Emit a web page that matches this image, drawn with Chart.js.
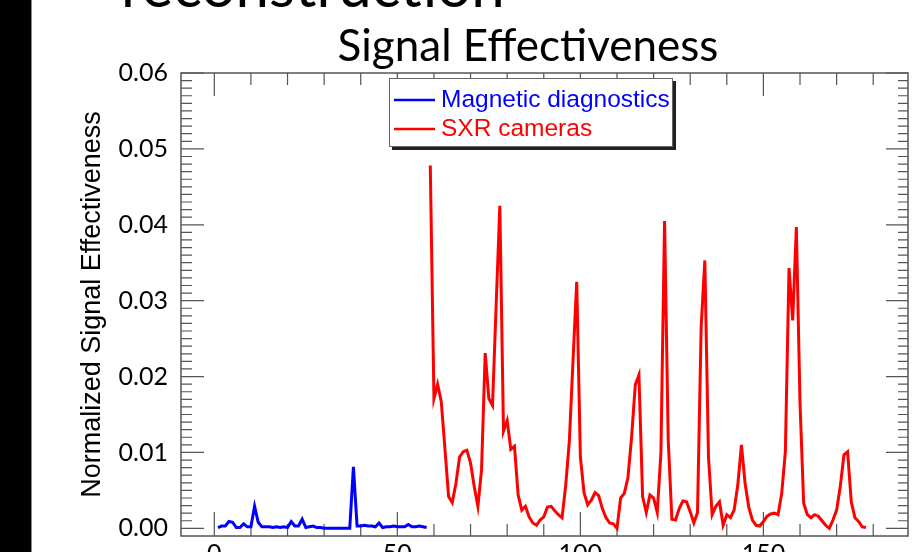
<!DOCTYPE html>
<html>
<head>
  <meta charset="UTF-8">
  <title>Signal Effectiveness</title>
  <script src="https://cdn.jsdelivr.net/npm/chart.js"></script>
  <style>
    body { margin: 0; background: #fff; overflow: hidden; }
    .slide { position: relative; width: 914px; height: 552px; overflow: hidden; background: #fff; }
    .slide canvas { position: absolute; left: 0; top: 0; }
    /* dark strip on the slide's left edge */
    .side-bar { position: absolute; left: 0; top: 0; width: 31px; height: 552px; background: #000; border-right: 1px solid #8a8a8a; }
    .slide-heading { position: absolute; left: 121px; top: -46px; margin: 0; font: normal 60px/60px Lato, sans-serif; color: #000; white-space: nowrap; }
    .chart-title { position: absolute; left: 528px; top: 22px; transform: translateX(-50%); margin: 0; font: normal 44px/44px Lato, sans-serif; color: #000; white-space: nowrap; }
  </style>
</head>
<body>
<div class="slide">
  <canvas id="chart-signal" width="914" height="600"></canvas>
  <div class="side-bar"></div>
  <h1 class="slide-heading">reconstruction</h1>
  <h2 class="chart-title">Signal Effectiveness</h2>
</div>

<script>
  // channel numbers: magnetic probes come first, SXR chords follow
  const magneticFirstChannel = 1;
  const sxrFirstChannel = 59;

  const magneticValues = [
    0.0001, 0.0003, 0.0003, 0.0009, 0.0008, 0.0001, 0.0001, 0.0006, 0.0002, 0.0002,
    0.0029, 0.0008, 0.0002, 0.0002, 0.0002, 0.0001, 0.0002, 0.0001, 0.0002, 0.0001,
    0.0009, 0.0003, 0.0003, 0.0012, 0.0001, 0.0002, 0.0003, 0.0001, 0.0001, 0.0000,
    0.0000, 0.0000, 0.0000, 0.0000, 0.0000, 0.0000, 0.0000, 0.0081, 0.0003, 0.0003,
    0.0004, 0.0003, 0.0003, 0.0002, 0.0007, 0.0001, 0.0002, 0.0002, 0.0003, 0.0002,
    0.0002, 0.0002, 0.0005, 0.0002, 0.0002, 0.0003, 0.0002, 0.0001
  ];

  const sxrValues = [
    0.0478, 0.0171, 0.0190, 0.0167, 0.0105, 0.0042, 0.0034, 0.0059, 0.0094, 0.0101,
    0.0103, 0.0086, 0.0055, 0.0029, 0.0077, 0.0231, 0.0171, 0.0162, 0.0295, 0.0425,
    0.0128, 0.0142, 0.0104, 0.0108, 0.0044, 0.0024, 0.0029, 0.0015, 0.0007, 0.0004,
    0.0011, 0.0015, 0.0028, 0.0029, 0.0023, 0.0018, 0.0014, 0.0057, 0.0116, 0.0222,
    0.0325, 0.0094, 0.0047, 0.0031, 0.0037, 0.0047, 0.0043, 0.0026, 0.0014, 0.0007,
    0.0006, 0.0000, 0.0040, 0.0046, 0.0067, 0.0121, 0.0189, 0.0202, 0.0042, 0.0021,
    0.0044, 0.0040, 0.0021, 0.0099, 0.0405, 0.0116, 0.0012, 0.0011, 0.0026, 0.0036,
    0.0035, 0.0022, 0.0007, 0.0021, 0.0266, 0.0353, 0.0094, 0.0018, 0.0029, 0.0035,
    0.0004, 0.0018, 0.0014, 0.0024, 0.0057, 0.0110, 0.0059, 0.0028, 0.0011, 0.0004,
    0.0003, 0.0009, 0.0016, 0.0019, 0.0020, 0.0018, 0.0046, 0.0101, 0.0343, 0.0274,
    0.0397, 0.0165, 0.0033, 0.0018, 0.0014, 0.0018, 0.0016, 0.0010, 0.0004, 0.0000,
    0.0011, 0.0024, 0.0055, 0.0097, 0.0101, 0.0035, 0.0014, 0.0009, 0.0002, 0.0001
  ];

  const seriesLabels = ['Magnetic diagnostics', 'SXR cameras'];

  // axes
  const xMin = -9.1, xMax = 189.5;
  const yMin = -0.00101, yMax = 0.06;
  const xTicks = [0, 50, 100, 150];
  const yTicks = [0.00, 0.01, 0.02, 0.03, 0.04, 0.05, 0.06];
  const xMinorStep = 10;
  const yMinorStep = 0.001;

  const axisColor = '#555';

  function toPoints(values, firstChannel) {
    return values.map((v, i) => ({ x: firstChannel + i, y: v }));
  }

  // IDL-style frame: box on all four sides, ticks pointing inward
  const frameTicks = {
    id: 'frameTicks',
    beforeDatasetsDraw(chart) {
      const { ctx, chartArea: a, scales: { x, y } } = chart;
      ctx.save();
      ctx.strokeStyle = axisColor;
      ctx.lineWidth = 1.5;
      ctx.strokeRect(a.left, a.top, a.right - a.left, a.bottom - a.top);
      ctx.lineWidth = 1.2;
      ctx.beginPath();
      for (let v = 0; v <= x.max; v += xMinorStep) {
        const px = x.getPixelForValue(v);
        const major = xTicks.includes(v);
        ctx.moveTo(px, a.bottom); ctx.lineTo(px, a.bottom - (major ? 24 : 12));
        ctx.moveTo(px, a.top); ctx.lineTo(px, a.top + (major ? 23 : 12));
      }
      for (let k = 0; k <= 60; k++) {
        const v = k * yMinorStep;
        const py = y.getPixelForValue(v);
        const major = k % 10 === 0;
        ctx.moveTo(a.left, py); ctx.lineTo(a.left + (major ? 23 : 11), py);
        ctx.moveTo(a.right, py); ctx.lineTo(a.right - (major ? 22 : 10), py);
      }
      ctx.stroke();
      ctx.restore();
    }
  };

  // boxed legend with a drop shadow, placed inside the plot
  const boxedLegend = {
    id: 'boxedLegend',
    afterDraw(chart) {
      const { ctx } = chart;
      const box = { left: 389, top: 78, width: 284, height: 69 };
      ctx.save();
      ctx.fillStyle = '#222';
      ctx.fillRect(box.left + 3, box.top + 3, box.width, box.height);
      ctx.fillStyle = '#fff';
      ctx.fillRect(box.left, box.top, box.width, box.height);
      ctx.strokeStyle = '#666';
      ctx.lineWidth = 1;
      ctx.strokeRect(box.left + 0.5, box.top + 0.5, box.width - 1, box.height - 1);
      ctx.font = '24.5px "Liberation Sans", Arial, sans-serif';
      ctx.textBaseline = 'middle';
      chart.data.datasets.forEach((ds, i) => {
        const cy = 100 + i * 29;
        ctx.strokeStyle = ds.borderColor;
        ctx.lineWidth = 2.5;
        ctx.beginPath();
        ctx.moveTo(box.left + 5, cy);
        ctx.lineTo(box.left + 46, cy);
        ctx.stroke();
        ctx.fillStyle = ds.borderColor;
        ctx.fillText(ds.label, box.left + 52, cy);
      });
      ctx.restore();
    }
  };

  const ctx = document.getElementById('chart-signal').getContext('2d');
  new Chart(ctx, {
    type: 'line',
    data: {
      datasets: [
        {
          label: seriesLabels[0],
          data: toPoints(magneticValues, magneticFirstChannel),
          borderColor: '#0000ff',
          borderWidth: 3,
          pointRadius: 0,
          tension: 0
        },
        {
          label: seriesLabels[1],
          data: toPoints(sxrValues, sxrFirstChannel),
          borderColor: '#ff0000',
          borderWidth: 3,
          pointRadius: 0,
          tension: 0
        }
      ]
    },
    options: {
      responsive: false,
      animation: false,
      layout: { padding: { top: 73, left: 0, right: 6, bottom: 0 } },
      plugins: {
        legend: { display: false },
        tooltip: { enabled: false },
        title: { display: false }
      },
      scales: {
        x: {
          type: 'linear',
          min: xMin,
          max: xMax,
          afterBuildTicks: s => { s.ticks = xTicks.map(v => ({ value: v })); },
          afterFit: s => { s.height = 64; },
          grid: { display: false, drawTicks: false },
          border: { display: false },
          ticks: {
            padding: 3,
            color: '#000',
            maxRotation: 0,
            autoSkip: false,
            font: { family: 'Lato', size: 25 },
            callback: v => String(v)
          }
        },
        y: {
          type: 'linear',
          min: yMin,
          max: yMax,
          afterBuildTicks: s => { s.ticks = yTicks.map(v => ({ value: v })); },
          afterFit: s => { s.width = 181; },
          grid: { display: false, drawTicks: false },
          border: { display: false },
          ticks: {
            padding: 13,
            color: '#000',
            font: { family: 'Lato', size: 25 },
            callback: v => v.toFixed(2)
          },
          title: {
            display: true,
            text: 'Normalized Signal Effectiveness',
            color: '#000',
            font: { family: 'Liberation Sans', size: 27 },
            padding: { top: 76, bottom: 0 }
          }
        }
      }
    },
    plugins: [frameTicks, boxedLegend]
  });
</script>
</body>
</html>
